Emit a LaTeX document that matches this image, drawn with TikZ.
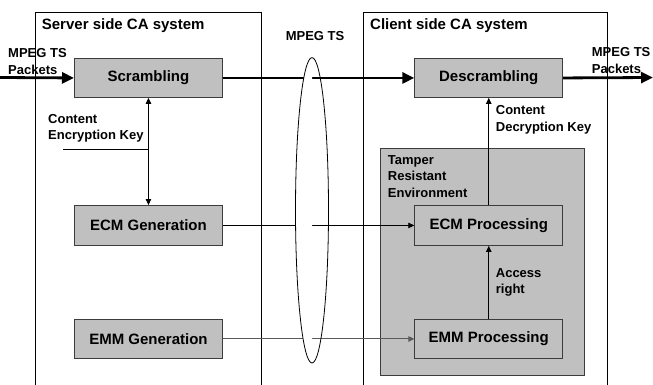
\documentclass[tikz,border=0pt]{standalone}
\usepackage{fontspec}
\setmainfont{Liberation Sans}
\usetikzlibrary{arrows.meta}
\definecolor{boxfill}{RGB}{192,192,192}
\definecolor{boxline}{RGB}{60,60,60}
\tikzset{
  blk/.style={draw=boxline, line width=0.9pt, fill=boxfill, minimum width=148pt, minimum height=39pt, inner sep=0pt, anchor=north west, font=\fontsize{15}{18}\selectfont\bfseries},
  lbl/.style={inner sep=0pt, align=left, anchor=west, font=\fontsize{13}{16.5}\selectfont\bfseries},
  ttl/.style={inner sep=0pt, anchor=west, font=\fontsize{15}{18}\selectfont\bfseries},
  bigarrow/.style={line width=2.8pt, -{Triangle[length=12pt,width=11pt]}},
  bigline/.style={line width=2.8pt},
  thin/.style={line width=0.8pt},
  smallhead/.style={-{Triangle[length=6pt,width=5.5pt]}},
  frame/.style={line width=0.9pt}
}
\begin{document}
\begin{tikzpicture}[x=1pt,y=-1pt]
\useasboundingbox (0,0) rectangle (653,385);
\fill[white] (0,0) rectangle (653,385);
% frames
\draw[frame] (35,385) -- (35,12.7) -- (261,12.7) -- (261,385);
\draw[frame] (363.3,385) -- (363.3,12.7) -- (607.3,12.7) -- (607.3,385);
\node[ttl] (srvt) at (41.7,26) {Server side CA system};
\node[ttl] (clit) at (370,26) {Client side CA system};
% tamper box
\draw[draw=boxline, line width=0.9pt, fill=boxfill] (380,148) rectangle (584.3,375);
\node[lbl] (tamp) at (387.7,176.5) {Tamper\\Resistant\\Environment};
% blocks
\node[blk] (scr) at (74,58) {Scrambling};
\node[blk] (dscr) at (414.3,58) {Descrambling};
\node[blk, minimum height=40pt] (ecmg) at (74,205) {ECM Generation};
\node[blk] (emmg) at (74,319) {EMM Generation\hspace{12pt}};
\node[blk, minimum height=40pt] (ecmp) at (414.3,205) {ECM Processing\hspace{14pt}};
\node[blk] (emmp) at (414.3,319) {EMM Processing};
% labels
\node[lbl] (inl) at (8,61.5) {MPEG TS\\Packets};
\node[lbl] (outl) at (591.7,60.5) {MPEG TS\\Packets};
\node[lbl, anchor=center] (tsl) at (315,36) {MPEG TS};
\node[lbl] (cek) at (48,128.5) {Content\\Encryption Key};
\node[lbl] (cdk) at (495.7,120) {Content\\Decryption Key};
\node[lbl] (acc) at (495.7,282.5) {Access\\right};
% connectors
\coordinate (in) at (0,77.5);
\coordinate (out) at (653,77.5);
\coordinate (keyl) at (63,149);
\draw[bigarrow] (in) -- (scr.west);
\draw[bigarrow] (scr.east) -- (dscr.west);
\draw[bigarrow] (dscr.east) -- (out);
\draw[thin, {Triangle[length=6pt,width=5.5pt]}-{Triangle[length=6pt,width=5.5pt]}] (scr.south) -- (ecmg.north);
\draw[thin] (keyl) -- (keyl -| scr.south);
\draw[thin, smallhead] (ecmg.east) -- (ecmp.west);
\draw[line width=1pt, draw={rgb,255:red,90;green,90;blue,90}, smallhead] (emmg.east) -- (emmp.west);
\draw[thin, smallhead] (ecmp.north) -- (dscr.south);
\draw[thin, smallhead] (emmp.north) -- (ecmp.south);
% MPEG TS bundle ellipse (left half hides the lines)
\begin{scope}
\clip (294,50) rectangle (312,370);
\fill[white] (312,210.3) ellipse [x radius=16.5pt, y radius=152.7pt];
\end{scope}
\draw[thin] (312,210.3) ellipse [x radius=16.5pt, y radius=152.7pt];
\end{tikzpicture}
\end{document}
